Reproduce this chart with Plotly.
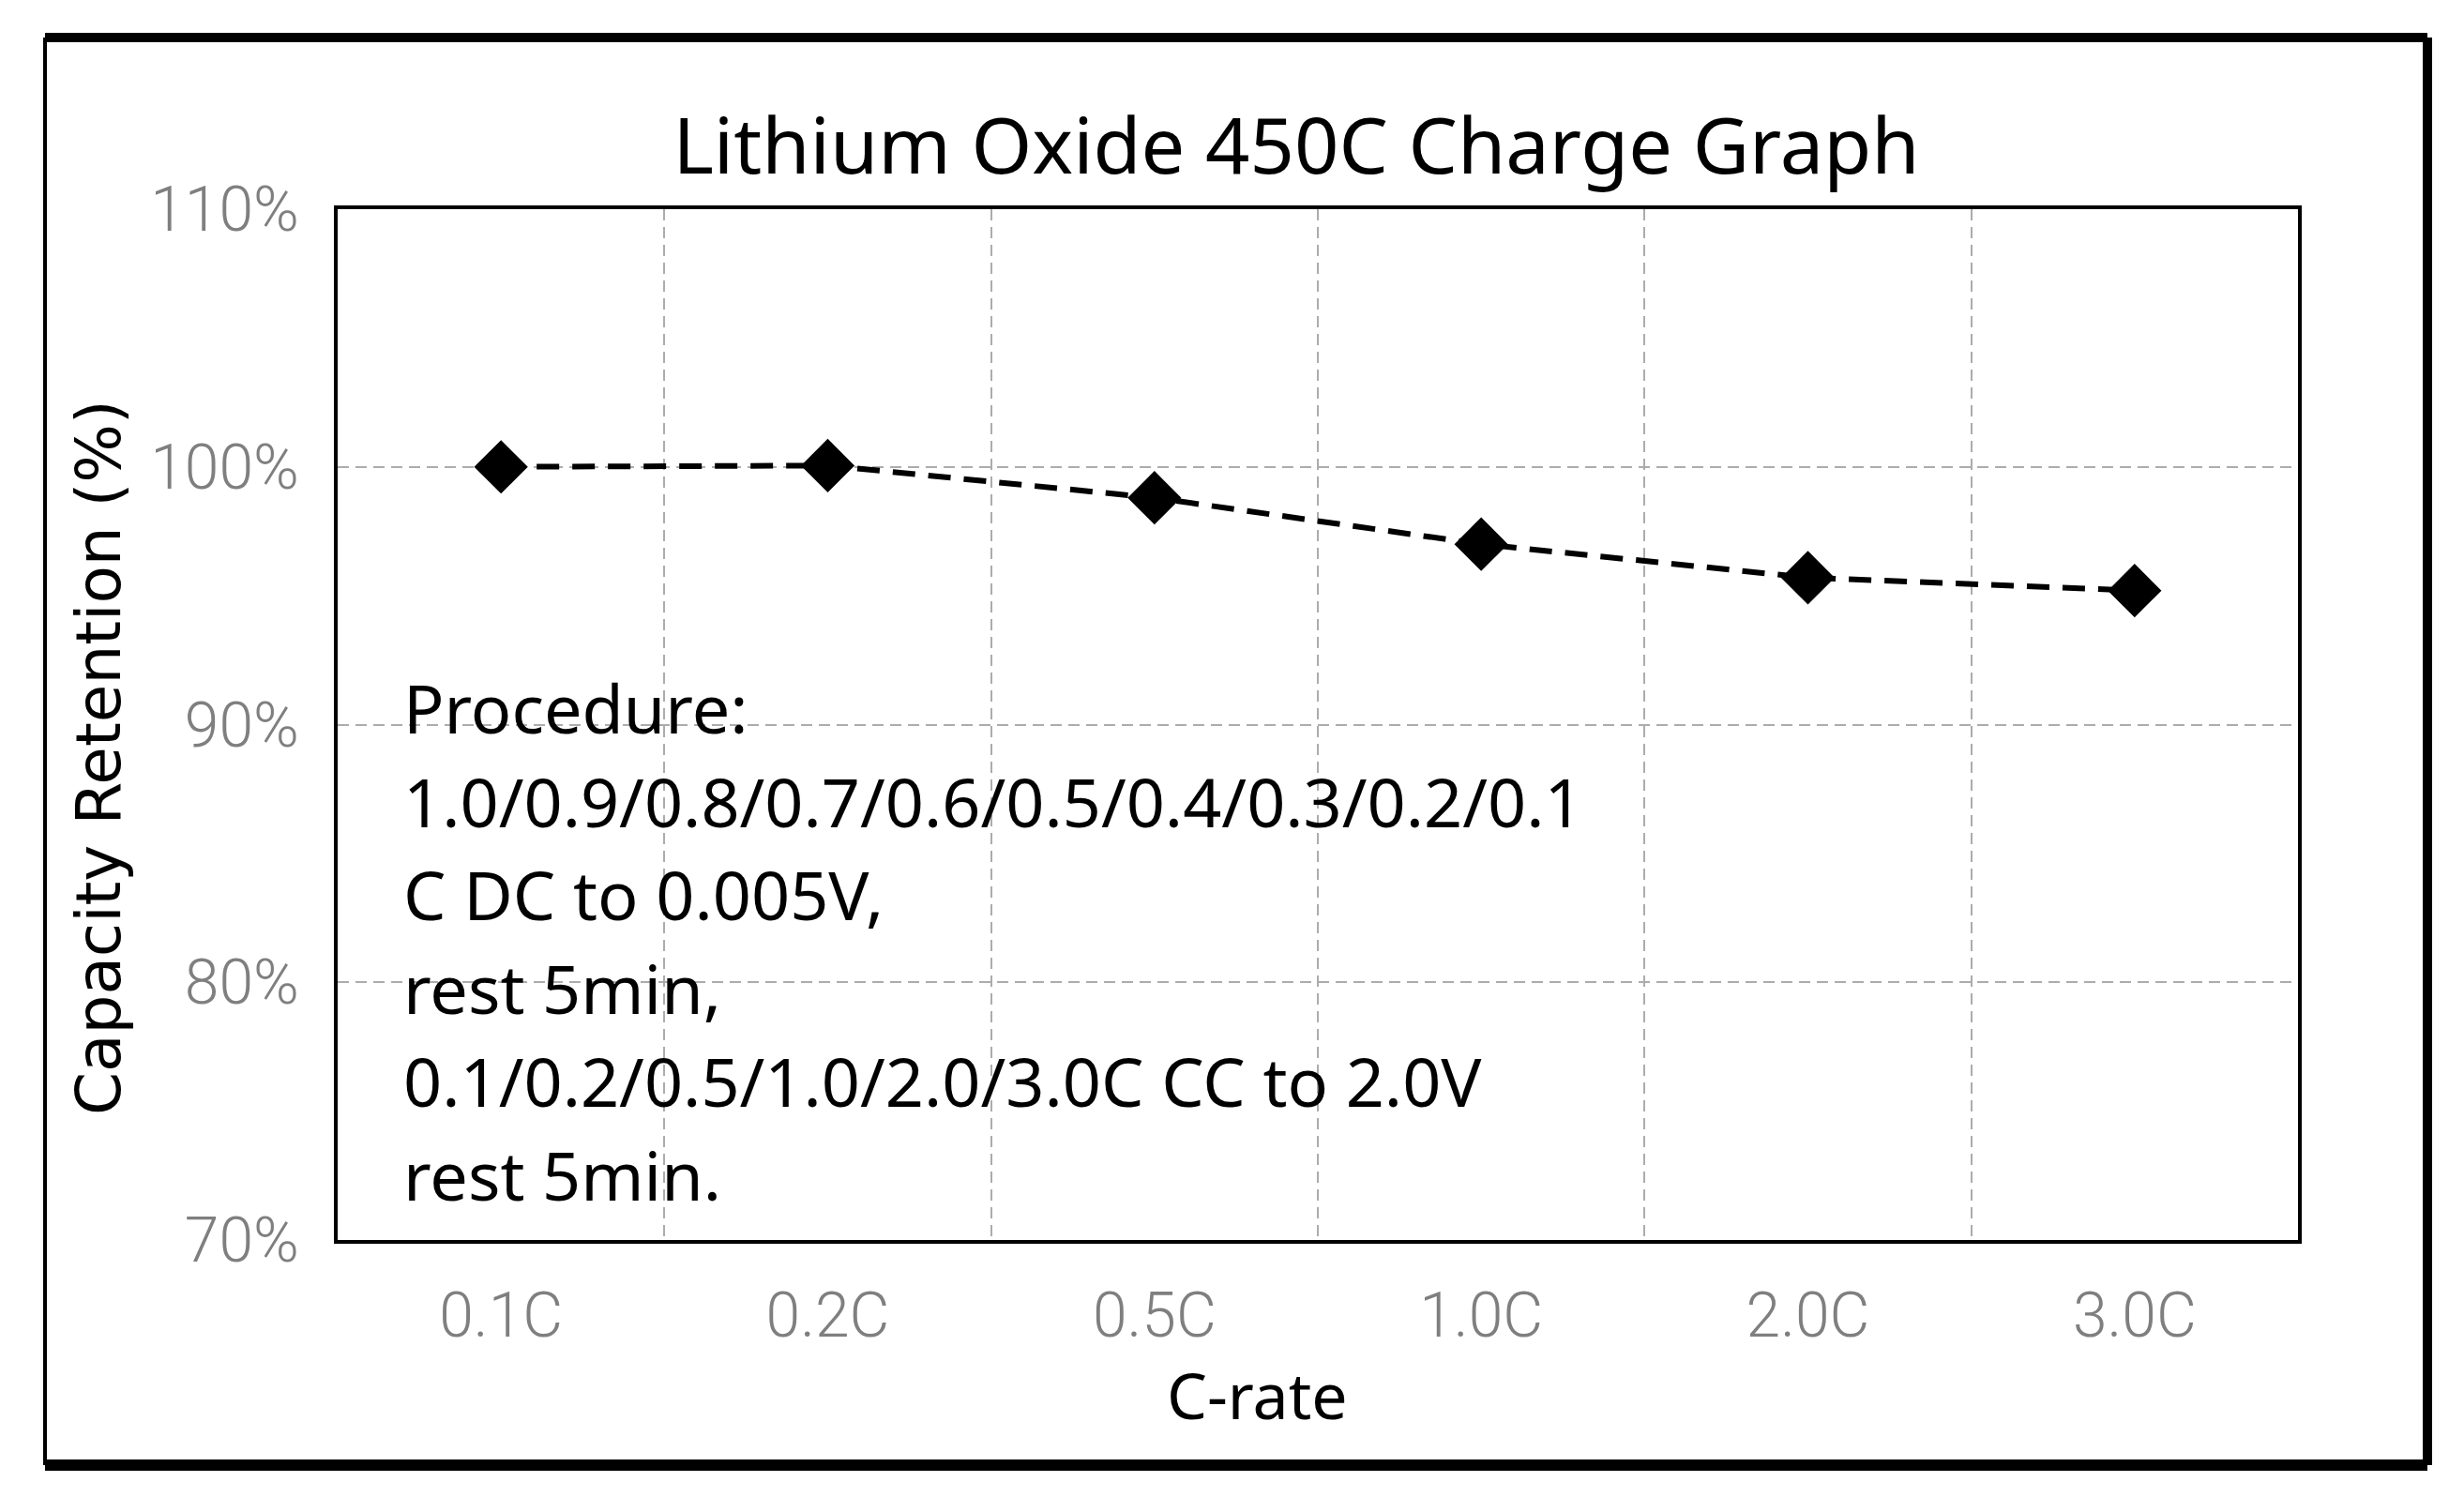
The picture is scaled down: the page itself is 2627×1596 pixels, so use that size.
import plotly.graph_objects as go

# values
c_rates = ["0.1C", "0.2C", "0.5C", "1.0C", "2.0C", "3.0C"]
retention = [100.0, 100.05, 98.8, 97.0, 95.7, 95.2]
y_ticks = [70, 80, 90, 100, 110]
y_tick_labels = ["70%", "80%", "90%", "100%", "110%"]

procedure_lines = [
    "Procedure:",
    "1.0/0.9/0.8/0.7/0.6/0.5/0.4/0.3/0.2/0.1",
    "C DC to 0.005V,",
    "rest 5min,",
    "0.1/0.2/0.5/1.0/2.0/3.0C CC to 2.0V",
    "rest 5min.",
]

# the page puts the figure 8px in from the top-left corner
OFF = 8
W, H = 2627 - OFF, 1596 - OFF
L, R, T, B = 360 - OFF, 177, 223 - OFF, 274
pw, ph = W - L - R, H - T - B


def px_x(x):
    return (x - OFF - L) / pw


def px_y(y):
    return 1 - (y - OFF - T) / ph


fig = go.Figure()
fig.add_trace(
    go.Scatter(
        x=c_rates,
        y=retention,
        mode="lines+markers",
        line=dict(color="black", width=6, dash="24px,14px"),
        marker=dict(symbol="diamond", size=44, color="black"),
        showlegend=False,
    )
)

grid = dict(showgrid=True, gridcolor="#acacac", gridwidth=2, griddash="12px,7px")
tick_font = dict(family="Roboto", size=66, color="#7f7f7f", weight=300)

fig.update_xaxes(
    type="category",
    range=[-0.5, 5.5],
    tickson="boundaries",
    ticks="",
    showline=True, linecolor="black", linewidth=4, mirror=True,
    zeroline=False,
    ticklabelstandoff=20,
    tickfont=tick_font,
    **grid,
)
fig.update_yaxes(
    range=[70, 110],
    tickvals=y_ticks,
    ticktext=y_tick_labels,
    ticks="",
    showline=True, linecolor="black", linewidth=4, mirror=True,
    zeroline=False,
    ticklabelstandoff=24,
    tickfont=tick_font,
    **grid,
)

annotations = [
    dict(
        text="Capacity Retention (%)",
        xref="paper", yref="paper",
        x=px_x(105), y=px_y(808),
        textangle=-90, showarrow=False,
        xanchor="center", yanchor="middle",
        font=dict(family="DejaVu Sans", size=66, color="black"),
    ),
    dict(
        text="C-rate",
        xref="paper", yref="paper",
        x=px_x(1340), y=px_y(1486),
        showarrow=False, xanchor="center", yanchor="middle",
        font=dict(family="Noto Sans", size=68, color="black"),
    ),
]
for i, line in enumerate(procedure_lines):
    annotations.append(
        dict(
            text=line,
            xref="paper", yref="paper",
            x=px_x(428), y=px_y(754 + 99.6 * i),
            showarrow=False, xanchor="left", yanchor="middle",
            font=dict(family="Noto Sans", size=72, color="black"),
        )
    )

# outer frame around the whole figure
fx0, fx1 = px_x(48), px_x(2588)
fy0, fy1 = px_y(1562), px_y(40)
frame = dict(type="line", xref="paper", yref="paper")
shapes = [
    dict(frame, x0=fx0, x1=fx1, y0=fy1, y1=fy1, line=dict(color="black", width=10)),
    dict(frame, x0=fx0, x1=fx1, y0=fy0, y1=fy0, line=dict(color="black", width=12)),
    dict(frame, x0=fx0, x1=fx0, y0=fy0, y1=fy1, line=dict(color="black", width=4)),
    dict(frame, x0=fx1, x1=fx1, y0=fy0, y1=fy1, line=dict(color="black", width=10)),
]

fig.update_layout(
    width=W,
    height=H,
    margin=dict(l=L, r=R, t=T, b=B),
    paper_bgcolor="white",
    plot_bgcolor="white",
    title=dict(
        text="Lithium Oxide 450C Charge Graph",
        x=px_x(1382), xref="paper", xanchor="center",
        y=1 - (156 - OFF) / H, yanchor="middle",
        font=dict(family="Noto Sans", size=83, color="black"),
    ),
    annotations=annotations,
    shapes=shapes,
)

fig.write_html("out.html")
